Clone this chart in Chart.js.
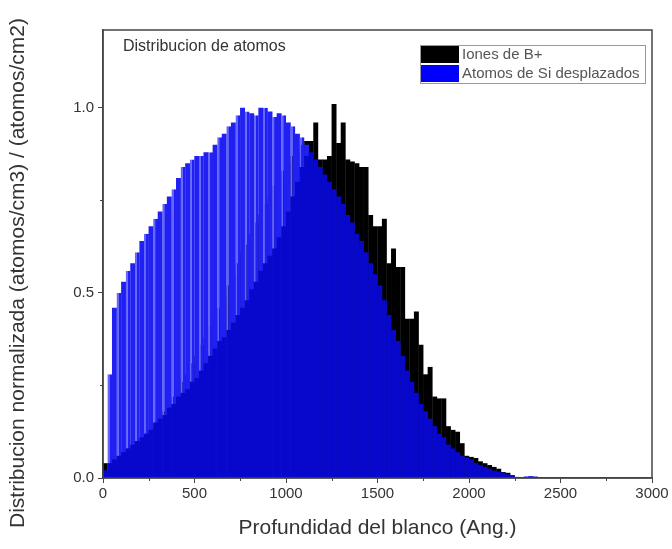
<!DOCTYPE html>
<html>
<head>
<meta charset="utf-8">
<script src="https://cdn.jsdelivr.net/npm/chart.js@4.4.0/dist/chart.umd.min.js"></script>
<style>
	html, body { margin: 0; padding: 0; background: #fff; }
	#wrap { width: 672px; height: 549px; }
</style>
</head>
<body>
<div id="wrap"><canvas id="histo"></canvas></div>
<script>
// bin centres (Ang.), 25 Ang. bins
const depth = [
	12.5, 37.5, 62.5, 87.5, 112.5, 137.5, 162.5, 187.5, 212.5, 237.5,
	262.5, 287.5, 312.5, 337.5, 362.5, 387.5, 412.5, 437.5, 462.5, 487.5,
	512.5, 537.5, 562.5, 587.5, 612.5, 637.5, 662.5, 687.5, 712.5, 737.5,
	762.5, 787.5, 812.5, 837.5, 862.5, 887.5, 912.5, 937.5, 962.5, 987.5,
	1012.5, 1037.5, 1062.5, 1087.5, 1112.5, 1137.5, 1162.5, 1187.5, 1212.5, 1237.5,
	1262.5, 1287.5, 1312.5, 1337.5, 1362.5, 1387.5, 1412.5, 1437.5, 1462.5, 1487.5,
	1512.5, 1537.5, 1562.5, 1587.5, 1612.5, 1637.5, 1662.5, 1687.5, 1712.5, 1737.5,
	1762.5, 1787.5, 1812.5, 1837.5, 1862.5, 1887.5, 1912.5, 1937.5, 1962.5, 1987.5,
	2012.5, 2037.5, 2062.5, 2087.5, 2112.5, 2137.5, 2162.5, 2187.5, 2212.5, 2237.5,
	2262.5, 2287.5, 2312.5, 2337.5, 2362.5, 2387.5
]

// Iones de B+
const ionesB = [
	0.04, 0.02, 0.03, 0.04, 0.05, 0.06, 0.07, 0.08, 0.10, 0.11,
	0.13, 0.14, 0.16, 0.18, 0.20, 0.22, 0.24, 0.26, 0.28, 0.31,
	0.33, 0.36, 0.38, 0.41, 0.44, 0.46, 0.49, 0.52, 0.55, 0.58,
	0.61, 0.63, 0.66, 0.69, 0.71, 0.74, 0.76, 0.79, 0.81, 0.83,
	0.85, 0.87, 0.88, 0.90, 0.91, 0.91, 0.96, 0.86, 0.86, 0.87,
	1.01, 0.905, 0.96, 0.86, 0.855, 0.85, 0.84, 0.84, 0.71, 0.68,
	0.68, 0.70, 0.58, 0.62, 0.57, 0.57, 0.43, 0.43, 0.45, 0.36,
	0.28, 0.30, 0.22, 0.215, 0.215, 0.14, 0.13, 0.125, 0.094, 0.06,
	0.057, 0.054, 0.045, 0.04, 0.035, 0.03, 0.025, 0.016, 0.014, 0.006,
	0, 0, 0, 0, 0, 0
]

// Atomos de Si desplazados (top of each bar)
const siDesplazados = [
	0.02, 0.28, 0.46, 0.50, 0.53, 0.56, 0.58, 0.61, 0.64, 0.66,
	0.68, 0.70, 0.72, 0.74, 0.76, 0.78, 0.81, 0.84, 0.85, 0.86,
	0.87, 0.87, 0.88, 0.88, 0.90, 0.92, 0.93, 0.95, 0.96, 0.98,
	1.00, 0.99, 0.985, 0.98, 1.00, 1.00, 0.99, 0.975, 0.985, 0.98,
	0.96, 0.95, 0.93, 0.92, 0.90, 0.88, 0.86, 0.84, 0.82, 0.80,
	0.78, 0.76, 0.74, 0.71, 0.69, 0.66, 0.64, 0.61, 0.58, 0.55,
	0.52, 0.48, 0.44, 0.40, 0.37, 0.33, 0.29, 0.26, 0.23, 0.20,
	0.18, 0.16, 0.14, 0.12, 0.11, 0.09, 0.08, 0.07, 0.06, 0.055,
	0.05, 0.04, 0.035, 0.03, 0.025, 0.02, 0.017, 0.014, 0.01, 0.008,
	0.003, 0.002, 0.004, 0.005, 0.004, 0
]

// solid lower part of the Si bars (the striped comb sits above it)
const siBase = [
	0.02, 0.04, 0.05, 0.06, 0.07, 0.08, 0.09, 0.10, 0.11, 0.12,
	0.13, 0.15, 0.16, 0.17, 0.19, 0.20, 0.22, 0.23, 0.24, 0.26,
	0.27, 0.29, 0.31, 0.33, 0.35, 0.37, 0.38, 0.40, 0.42, 0.44,
	0.46, 0.48, 0.51, 0.53, 0.56, 0.58, 0.60, 0.62, 0.65, 0.68,
	0.72, 0.76, 0.80, 0.84, 0.87
]

const xMinor = [250, 750, 1250, 1750, 2250, 2750]
const yMinor = [0.25, 0.75]

const BLUE = '#2020f2'
const BLUE_DARK = '#0808cc'
const STRIPE = '#6464ff'
const AXIS = '#444'

Chart.defaults.font.family = '"Liberation Sans", Arial, sans-serif'
Chart.defaults.color = '#333'

const decor = {
	id: 'decor',
	afterDraw(chart) {
		const { ctx, chartArea: a, scales: { x, y } } = chart
		ctx.save()
		ctx.strokeStyle = AXIS
		ctx.lineWidth = 1.5
		ctx.strokeRect(a.left, a.top, a.right - a.left, a.bottom - a.top)

		// minor ticks
		ctx.lineWidth = 1
		ctx.beginPath()
		xMinor.forEach(v => {
			const px = Math.round(x.getPixelForValue(v)) + 0.5
			ctx.moveTo(px, a.bottom)
			ctx.lineTo(px, a.bottom + 3)
		})
		yMinor.forEach(v => {
			const py = Math.round(y.getPixelForValue(v)) + 0.5
			ctx.moveTo(a.left, py)
			ctx.lineTo(a.left - 3, py)
		})
		ctx.stroke()

		// y axis title
		ctx.fillStyle = '#333'
		ctx.font = '21px "Liberation Sans", Arial, sans-serif'
		ctx.textAlign = 'center'
		ctx.textBaseline = 'middle'
		ctx.save()
		ctx.translate(18, 273)
		ctx.rotate(-Math.PI / 2)
		ctx.fillText('Distribucion normalizada (atomos/cm3) / (atomos/cm2)', 0, 0)
		ctx.restore()

		// title inside the frame
		ctx.font = '16px "Liberation Sans", Arial, sans-serif'
		ctx.textAlign = 'left'
		ctx.fillText('Distribucion de atomos', a.left + 20, a.top + 17)

		// legend box
		const lx = 420, ly = 45, lw = 225, lh = 38
		ctx.strokeStyle = '#999'
		ctx.lineWidth = 1
		ctx.strokeRect(lx + 0.5, ly + 0.5, lw, lh)
		const items = [chart.data.datasets[2], chart.data.datasets[1]]
		ctx.font = '15px "Liberation Sans", Arial, sans-serif'
		items.forEach((ds, i) => {
			const top = ly + 1 + i * 19
			ctx.fillStyle = ds.legendColor
			ctx.fillRect(lx + 1, top, 38, 17)
			ctx.fillStyle = '#555'
			ctx.fillText(ds.label, lx + 42, top + 9)
		})
		ctx.restore()
	}
}

new Chart('histo', {
	type: 'bar',
	data: {
		labels: depth,
		datasets: [
			{
				label: '',
				data: siBase,
				backgroundColor: BLUE_DARK,
				borderWidth: 0
			},
			{
				label: 'Atomos de Si desplazados',
				legendColor: '#0000ff',
				data: siDesplazados,
				backgroundColor: ctx => (ctx.dataIndex >= siBase.length ? BLUE_DARK : BLUE),
				borderColor: STRIPE,
				borderWidth: ctx =>
					ctx.dataIndex < siBase.length && ctx.dataIndex % 2 ? { left: 2, right: 0, top: 0, bottom: 0 } : 0
			},
			{
				label: 'Iones de B+',
				legendColor: '#000',
				data: ionesB,
				backgroundColor: '#000',
				borderWidth: 0
			}
		]
	},
	options: {
		responsive: true,
		maintainAspectRatio: false,
		animation: false,
		events: [],
		datasets: {
			bar: {
				grouped: false,
				barPercentage: 1.08,
				categoryPercentage: 1
			}
		},
		layout: { padding: { top: 30, right: 20, left: 0, bottom: 0 } },
		plugins: {
			legend: { display: false },
			tooltip: { enabled: false }
		},
		scales: {
			x: {
				type: 'linear',
				min: 0,
				max: 3000,
				offset: false,
				afterFit: s => { s.height = 71 },
				grid: { offset: false, drawOnChartArea: false, tickLength: 5, color: AXIS, tickWidth: 1 },
				border: { color: AXIS, width: 1.5 },
				ticks: {
					stepSize: 500,
					padding: 2,
					maxRotation: 0,
					font: { size: 15 },
					color: '#333',
					callback: v => String(v)
				},
				title: {
					display: true,
					text: 'Profundidad del blanco (Ang.)',
					font: { size: 21 },
					color: '#333',
					padding: { top: 0, bottom: 8 }
				}
			},
			y: {
				min: 0,
				max: 1.21,
				afterFit: s => { s.width = 103 },
				grid: { drawOnChartArea: false, tickLength: 5, color: AXIS, tickWidth: 1 },
				border: { color: AXIS, width: 1.5 },
				ticks: {
					stepSize: 0.5,
					includeBounds: false,
					padding: 4,
					font: { size: 15 },
					color: '#333',
					callback: v => v.toFixed(1)
				}
			}
		}
	},
	plugins: [decor]
})
</script>
</body>
</html>
